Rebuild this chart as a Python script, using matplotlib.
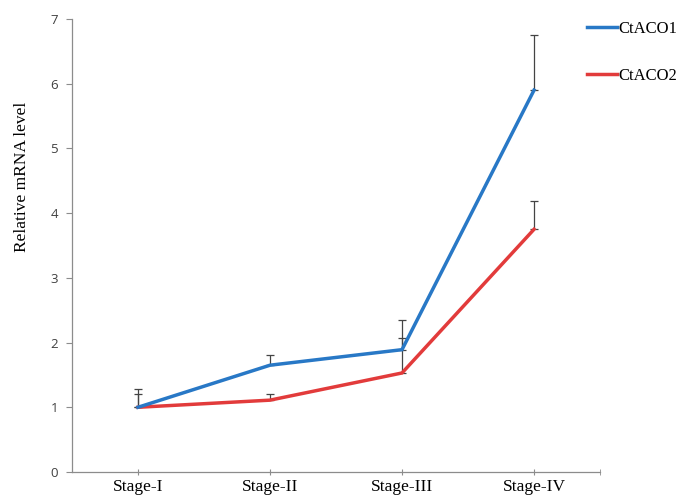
import matplotlib
matplotlib.use("Agg")
import matplotlib.pyplot as plt
import numpy as np

stages = ["Stage-I", "Stage-II", "Stage-III", "Stage-IV"]
aco1 = [1.00, 1.65, 1.89, 5.90]
aco1_err = [0.28, 0.16, 0.46, 0.85]
aco2 = [1.00, 1.11, 1.53, 3.75]
aco2_err = [0.20, 0.09, 0.54, 0.43]

blue = "#2878C6"
red = "#E23B3B"
serif = ["Liberation Serif", "DejaVu Serif"]
sans = ["Open Sans", "DejaVu Sans"]

fig = plt.figure(figsize=(6.83, 4.95), dpi=100)
ax = fig.add_axes([0.1054, 0.0465, 0.7731, 0.9151])

x = np.arange(len(stages)) + 0.5

# upper-only error bars, drawn beneath the lines
ax.errorbar(x, aco1, yerr=[np.zeros(4), aco1_err], fmt="none", ecolor="#444444",
            elinewidth=0.9, capsize=3, capthick=0.9, zorder=1)
ax.errorbar(x, aco2, yerr=[np.zeros(4), aco2_err], fmt="none", ecolor="#444444",
            elinewidth=0.9, capsize=3, capthick=0.9, zorder=1)

ax.plot(x, aco1, color=blue, lw=2.5, label="CtACO1", zorder=3, solid_joinstyle="miter")
ax.plot(x, aco2, color=red, lw=2.5, label="CtACO2", zorder=2, solid_joinstyle="miter")

ax.set_xlim(0, 4)
ax.set_ylim(0, 7)
ax.set_yticks(range(0, 8))
ax.set_xticks(x)
ax.set_xticklabels(stages, fontfamily=serif, fontsize=12.5)
ax.set_xticks([4], minor=True)
for lab in ax.get_yticklabels():
    lab.set_fontfamily(sans)
    lab.set_fontsize(9.5)
    lab.set_color("#404040")

for s in ("top", "right"):
    ax.spines[s].set_visible(False)
for s in ("left", "bottom"):
    ax.spines[s].set_color("#8c8c8c")
    ax.spines[s].set_linewidth(0.9)
ax.tick_params(axis="y", length=4, color="#8c8c8c", pad=6)
ax.tick_params(axis="x", which="both", length=4, direction="inout", color="#8c8c8c", pad=3)

fig.text(0.032, 0.491, "Relative mRNA level", rotation=90, ha="center", va="bottom",
         fontfamily=serif, fontsize=12.5)

leg = ax.legend(loc="upper left", bbox_to_anchor=(0.962, 1.01), frameon=False,
                prop={"family": serif, "size": 12}, handlelength=1.8,
                handletextpad=0.1, labelspacing=1.85, borderaxespad=0)

fig.savefig("out.png", dpi=100, facecolor="white")
